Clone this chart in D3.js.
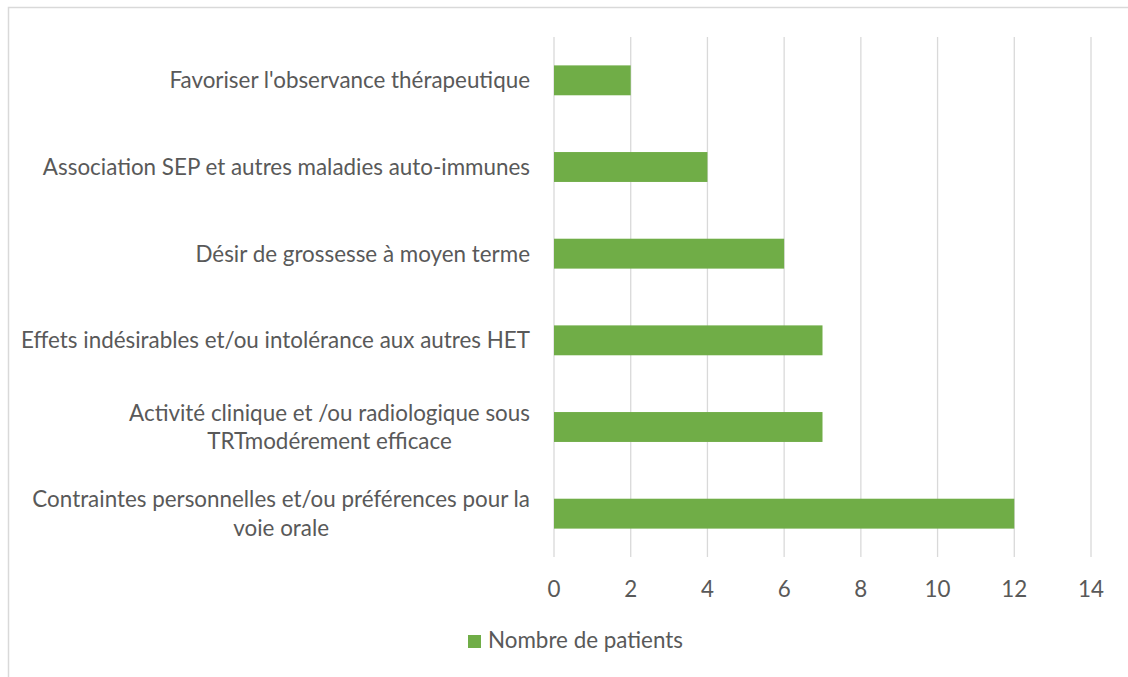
<!DOCTYPE html>
<html>
<head>
<meta charset="utf-8">
<script src="https://cdn.jsdelivr.net/npm/d3@7"></script>
<style>
  body { margin: 0; background: #fff; }
  text { font-family: Lato, "Open Sans", sans-serif; fill: #595959; }
</style>
</head>
<body>
<script>
// categories top to bottom, "\n" marks the line break
var categories = [
  "Favoriser l'observance thérapeutique",
  "Association SEP et autres maladies auto-immunes",
  "Désir de grossesse à moyen terme",
  "Effets indésirables et/ou intolérance aux autres HET",
  "Activité clinique et /ou radiologique sous\nTRTmodérement efficace",
  "Contraintes personnelles et/ou préférences pour la\nvoie orale"
];
var patients = [2, 4, 6, 7, 7, 12];
var xTicks = [0, 2, 4, 6, 8, 10, 12, 14];
var seriesName = "Nombre de patients";

function draw() {
  var width = 1128;
  var height = 677;
  var fontSize = 22.4;

  var svg = d3.select("body").append("svg")
      .attr("width", width)
      .attr("height", height);

  // chart frame
  svg.append("rect")
      .attr("x", 8.5).attr("y", 7.5)
      .attr("width", 1140).attr("height", 700)
      .attr("fill", "none")
      .attr("stroke", "#d9d9d9")
      .attr("stroke-width", 1.5);

  var plot = { left: 554, right: 1091, top: 37, bottom: 557 };

  var x = d3.scaleLinear()
      .domain([0, 14])
      .range([plot.left, plot.right]);

  var y = d3.scaleBand()
      .domain(categories)
      .range([plot.top, plot.bottom])
      .paddingInner(0.655)
      .paddingOuter(0.3275);

  // gridlines
  svg.append("g")
      .selectAll("line")
      .data(xTicks)
      .enter().append("line")
        .attr("x1", function(d) { return x(d); })
        .attr("x2", function(d) { return x(d); })
        .attr("y1", plot.top)
        .attr("y2", plot.bottom)
        .attr("stroke", "#d9d9d9")
        .attr("stroke-width", 1.3);

  // bars
  svg.append("g")
      .selectAll("rect")
      .data(categories)
      .enter().append("rect")
        .attr("x", x(0))
        .attr("y", function(d) { return y(d); })
        .attr("width", function(d, i) { return x(patients[i]) - x(0); })
        .attr("height", y.bandwidth())
        .attr("fill", "#70ad47");

  // x tick labels
  svg.append("g")
      .selectAll("text")
      .data(xTicks)
      .enter().append("text")
        .attr("x", function(d) { return x(d); })
        .attr("y", 589)
        .attr("dy", "0.35em")
        .attr("text-anchor", "middle")
        .style("font-size", fontSize + "px")
        .text(function(d) { return d; });

  // category labels (multi-line ones are centred on their widest line)
  var labelRight = 530;
  var lineGap = 28.5;
  var lab = svg.append("g")
      .selectAll("g")
      .data(categories)
      .enter().append("g");

  lab.each(function(d) {
    var g = d3.select(this);
    var lines = d.split("\n");
    var cy = y(d) + y.bandwidth() / 2;
    var t = g.selectAll("text")
        .data(lines)
        .enter().append("text")
          .attr("y", function(l, j) { return cy + (j - (lines.length - 1) / 2) * lineGap; })
          .attr("dy", "0.35em")
          .attr("text-anchor", "middle")
          .style("font-size", fontSize + "px")
          .text(function(l) { return l; });
    var maxW = 0;
    t.each(function() { maxW = Math.max(maxW, this.getComputedTextLength()); });
    t.attr("x", labelRight - maxW / 2);
  });

  // legend
  var legend = svg.append("g");
  legend.append("rect")
      .attr("x", 468).attr("y", 635)
      .attr("width", 13).attr("height", 13)
      .attr("fill", "#70ad47");
  legend.append("text")
      .attr("x", 488).attr("y", 640.5)
      .attr("dy", "0.35em")
      .style("font-size", fontSize + "px")
      .text(seriesName);
}
draw();
</script>
</body>
</html>
